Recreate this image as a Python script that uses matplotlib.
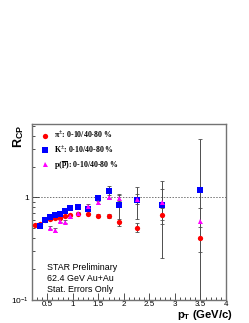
import numpy as np
import matplotlib
matplotlib.use("Agg")
import matplotlib.pyplot as plt
from matplotlib.ticker import FixedLocator, MultipleLocator, NullFormatter

plt.rcParams['font.family'] = ['Liberation Sans', 'DejaVu Sans']
plt.rcParams['mathtext.fontset'] = 'custom'
plt.rcParams['mathtext.rm'] = 'Liberation Serif:bold'
plt.rcParams['mathtext.it'] = 'Liberation Serif:bold'
plt.rcParams['mathtext.bf'] = 'Liberation Sans:bold'
plt.rcParams['mathtext.sf'] = 'Liberation Sans'

# R_CP (0-10% / 40-80%), 62.4 GeV Au+Au
pt_pi = [0.25, 0.35, 0.45, 0.55, 0.65, 0.75, 0.85, 0.95, 1.1, 1.3, 1.5, 1.7, 1.9, 2.25, 2.75, 3.5]
rcp_pi = [0.535, 0.552, 0.60, 0.61, 0.63, 0.636, 0.66, 0.676, 0.686, 0.697, 0.666, 0.66, 0.577, 0.508, 0.67, 0.405]
err_pi = [0.01, 0.01, 0.01, 0.01, 0.01, 0.01, 0.01, 0.01, 0.015, 0.015, 0.02, 0.025, 0.045, 0.05, 0.114, 0.11]

pt_k = [0.35, 0.45, 0.55, 0.65, 0.75, 0.85, 0.95, 1.1, 1.3, 1.5, 1.7, 1.9, 2.25, 2.75, 3.5]
rcp_k = [0.532, 0.609, 0.646, 0.676, 0.686, 0.74, 0.786, 0.80, 0.78, 0.99, 1.145, 0.835, 0.94, 0.847, 1.18]
err_k = [0.015, 0.015, 0.015, 0.015, 0.015, 0.02, 0.02, 0.02, 0.03, 0.06, 0.15, 0.24, 0.32, 0.59, 2.5]

pt_p = [0.55, 0.65, 0.75, 0.85, 0.95, 1.1, 1.3, 1.5, 1.7, 1.9, 2.25, 2.75, 3.5]
rcp_p = [0.508, 0.48, 0.595, 0.578, 0.656, 0.70, 0.83, 0.91, 1.015, 0.99, 0.97, 0.907, 0.59]
err_p = [0.02, 0.02, 0.02, 0.02, 0.02, 0.02, 0.03, 0.04, 0.05, 0.07, 0.1, 0.3, 0.195]

labels = [r'$\pi^{\pm}$: 0-10/40-80 %', r'K$^{\pm}$: 0-10/40-80 %',
          r'p($\overline{\mathrm{p}}$): 0-10/40-80 %']

fig = plt.figure(figsize=(2.49, 3.23), dpi=100)
ax = fig.add_axes([32/249, 1-300/323, 194/249, 176/323])

ebkw = dict(ls='none', ecolor='0.3', elinewidth=0.7, capsize=1.2, capthick=0.6)
series = [(pt_pi, rcp_pi, err_pi, 'o', '#ff0000', 3.8),
          (pt_k, rcp_k, err_k, 's', '#0000ff', 3.8),
          (pt_p, rcp_p, err_p, '^', '#ff00ff', 3.6)]
handles = []
for x, y, e, m, c, ms in series:
    ax.errorbar(x, y, yerr=e, **ebkw, zorder=2)
for x, y, e, m, c, ms in series:
    h, = ax.plot(x, y, ls='none', marker=m, color=c, ms=ms, mew=0, zorder=3)
    handles.append(h)

ax.axhline(1.0, color='0.45', ls=(0, (1.5, 1.5)), lw=0.7, zorder=1)

ax.set_yscale('log')
ax.set_xlim(0.2, 4.0)
ax.set_ylim(0.1, 5.2)

ax.xaxis.set_minor_locator(MultipleLocator(0.1))
ax.set_xticks([0.5, 1, 1.5, 2, 2.5, 3, 3.5, 4])
ax.set_xticklabels(['0.5', '1', '1.5', '2', '2.5', '3', '3.5', '4'])
ax.yaxis.set_major_locator(FixedLocator([0.1, 1]))
ax.yaxis.set_minor_locator(FixedLocator([0.2, 0.3, 0.4, 0.5, 0.6, 0.7, 0.8, 0.9, 2, 3, 4, 5]))
ax.yaxis.set_minor_formatter(NullFormatter())
ax.set_yticklabels([r'$\mathsf{10^{-1}}$', '1'])

ax.tick_params(which='both', direction='in', top=False, right=False, labelsize=6, color='0.2')
ax.tick_params(axis='x', pad=0.8, labelsize=5.8)
ax.tick_params(axis='y', pad=2)
ax.tick_params(which='major', length=5, width=0.6)
ax.tick_params(which='minor', length=2.5, width=0.6)
for s in ax.spines.values():
    s.set_color('0.45')
    s.set_linewidth(1.0)

fig.text(233/249, 1-322.5/323, r'$\mathbf{p}_{\mathbf{T}}$ (GeV/c)', ha='right', va='bottom',
         fontsize=8.1, fontweight='bold')
fig.text(19/249, 1-125/323, r'$\mathbf{R}_{\mathbf{CP}}$', rotation=90, ha='center', va='top',
         fontsize=9)

leg = ax.legend(handles, labels, loc='upper left', bbox_to_anchor=(0.02, 1.0), frameon=False,
                prop={'family': 'Liberation Serif', 'weight': 'bold', 'size': 5.7},
                handletextpad=0.6, labelspacing=0.45, handlelength=1.0, borderaxespad=0.3)

for yy, txt in [(267, 'STAR Preliminary'), (278.5, '62.4 GeV Au+Au'), (289.5, 'Stat. Errors Only')]:
    fig.text(46.7/249, 1-yy/323, txt, ha='left', va='center', fontsize=6.4)

fig.savefig('out.png', dpi=100)
